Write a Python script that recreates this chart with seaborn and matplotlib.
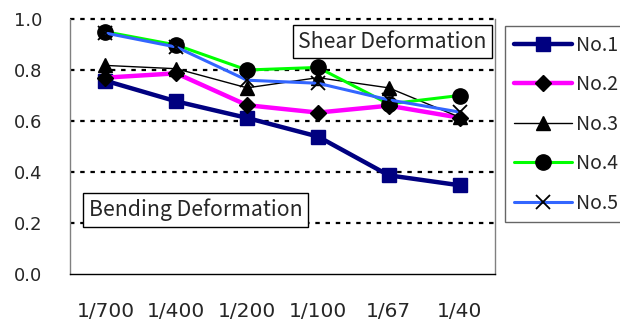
import matplotlib
matplotlib.use("Agg")
import matplotlib.pyplot as plt
import seaborn as sns
import pandas as pd
import numpy as np

categories = ["1/700", "1/400", "1/200", "1/100", "1/67", "1/40"]
no1 = [0.758, 0.677, 0.612, 0.539, 0.387, 0.348]
no2 = [0.770, 0.787, 0.662, 0.633, 0.660, 0.613]
no3 = [0.818, 0.805, 0.730, 0.770, 0.730, 0.615]
no4 = [0.950, 0.898, 0.800, 0.810, 0.667, 0.700]
no5 = [0.945, 0.890, 0.760, 0.748, 0.683, 0.635]
series_names = ["No.1", "No.2", "No.3", "No.4", "No.5"]
yticks = [0.0, 0.2, 0.4, 0.6, 0.8, 1.0]

sns.set_style("white")
plt.rcParams['font.family'] = ['Noto Sans CJK JP', 'DejaVu Sans']

fig = plt.figure(figsize=(6.2, 3.22), dpi=100)
ax = fig.add_axes([70/620, 1-274/322, (495-70)/620, (274-19)/322])

xpos = np.arange(len(categories))
styles = [
    dict(color="#000080", lw=3.2, marker="s", ms=10, mfc="#000080", mec="#000080"),
    dict(color="#FF00FF", lw=3.2, marker="D", ms=8.5, mfc="black", mec="black"),
    dict(color="black", lw=1.0, marker="^", ms=10, mfc="black", mec="black"),
    dict(color="#00FF00", lw=2.2, marker="o", ms=11, mfc="black", mec="black"),
    dict(color="#3366FF", lw=2.2, marker="x", ms=10, mfc="black", mec="black", mew=1.3),
]
data = [no1, no2, no3, no4, no5]
for i, (name, vals, st) in enumerate(zip(series_names, data, styles)):
    df = pd.DataFrame({"x": xpos, "y": vals})
    sns.lineplot(data=df, x="x", y="y", ax=ax, color=st["color"], linewidth=st["lw"],
                 marker=st["marker"], markersize=st["ms"], markerfacecolor=st["mfc"],
                 markeredgecolor=st["mec"], markeredgewidth=st.get("mew", 1.0),
                 label=name, zorder=3 + i, legend=False)

ax.set_xlim(-0.5, len(categories) - 0.5)
ax.set_ylim(0, 1.0)
ax.set_xticks(xpos)
ax.set_xticklabels(categories, fontsize=14.5, family=['DejaVu Sans'])
ax.set_xticks(np.arange(-0.5, len(categories), 1.0), minor=True)
ax.tick_params(axis='x', which='major', length=0, pad=20)
ax.tick_params(axis='x', which='minor', length=7, width=1, color='#404040', direction='out')
ax.set_yticks(yticks)
ax.set_yticklabels([f"{v:.1f}" for v in yticks], fontsize=13, family=['DejaVu Sans'])
ax.tick_params(axis='y', length=4, width=1, color='#404040', direction='out', pad=16)
ax.set_xlabel("")
ax.set_ylabel("")

for y in yticks[1:]:
    ax.axhline(y, color="black", lw=1.6, linestyle=(0, (2, 2.6)), zorder=1, clip_on=False)

ax.spines['top'].set_visible(False)
ax.spines['left'].set_color('#808080')
ax.spines['right'].set_color('#808080')
ax.spines['bottom'].set_color('black')
for s in ax.spines.values():
    s.set_linewidth(1.0)

box = dict(boxstyle="square,pad=0.25", facecolor="white", edgecolor="black", linewidth=1.0)
fig.text(392.5/620, 1-41.5/322, "Shear Deformation", ha="center", va="center",
         fontsize=15.3, bbox=box, zorder=10)
fig.text(195.5/620, 1-210/322, "Bending Deformation", ha="center", va="center",
         fontsize=15.3, bbox=box, zorder=10)

handles, labels = ax.get_legend_handles_labels()
leg = fig.legend(handles, labels, loc="upper left", bbox_to_anchor=(505/620, 1-26/322),
                 fontsize=14, frameon=True, fancybox=False, handlelength=3.0,
                 handletextpad=0.2, labelspacing=0.95, borderpad=0.45, borderaxespad=0)
leg.get_frame().set_edgecolor('#404040')
leg.get_frame().set_linewidth(1.0)

fig.savefig("out.png", dpi=100)
